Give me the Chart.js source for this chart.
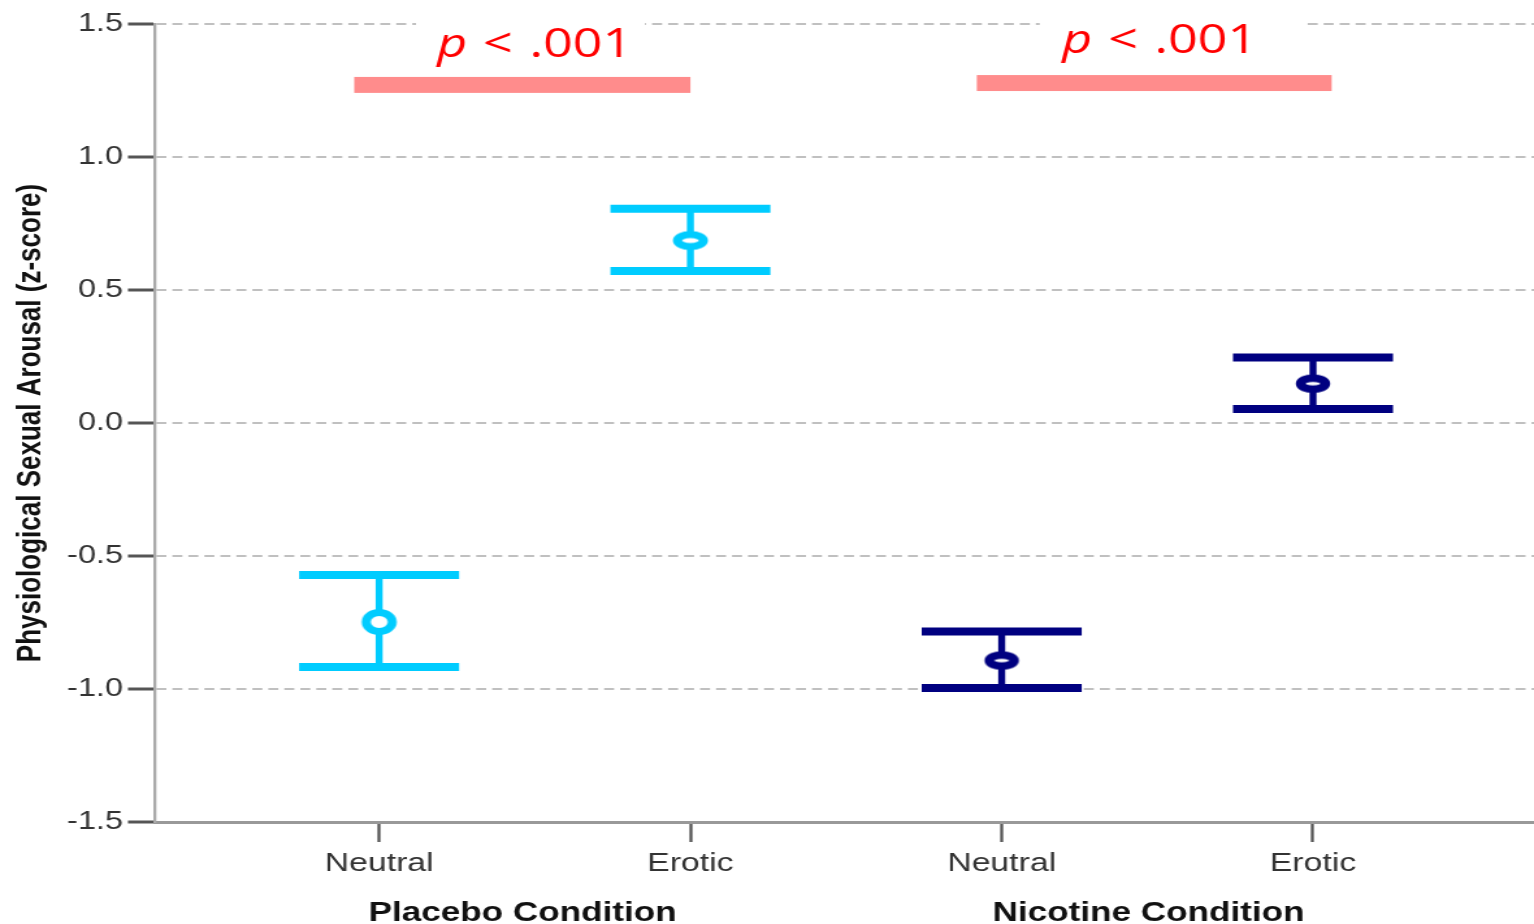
<!DOCTYPE html>
<html><head><meta charset="utf-8">
<script src="https://cdn.jsdelivr.net/npm/chart.js@4.4.0/dist/chart.umd.min.js"></script>
<style>html,body{margin:0;padding:0;background:#fff;overflow:hidden}</style>
</head><body>
<canvas id="c" width="1180" height="924" style="width:1534px;height:924px;display:block"></canvas>
<script>
// ---- data ----
const categories = ['Neutral', 'Erotic', 'Neutral', 'Erotic'];
const groupLabels = ['Placebo Condition', 'Nicotine Condition'];
const meanValues  = [-0.748, 0.686, -0.893, 0.148];
const upperValues = [-0.571, 0.805, -0.784, 0.246];
const lowerValues = [-0.917, 0.571, -0.996, 0.053];
const yTickValues = [-1.5, -1.0, -0.5, 0.0, 0.5, 1.0, 1.5];
const sigLabels = ['p < .001', 'p < .001'];
// significance bars (x in category units, y in z-score units)
const sigBarStart  = [-0.08, 1.92];
const sigBarEnd    = [1.0, 3.06];
const sigBarTop    = [1.301, 1.308];
const sigBarBottom = [1.241, 1.248];

// ---- layout / style ----
const S = 1.3; // canvas is stretched horizontally by CSS
const seriesColors = ['#00ccff', '#00ccff', '#000080', '#000080'];
const markerShape = [[10, 9.5, 7], [10, 6, 7], [9.5, 5.5, 7.5], [9.5, 5.5, 7.5]];
const capHalf = 0.257;
const sigTextX = [0.186, 2.194], sigTextY = [1.375, 1.39];
const sigPieceOffset = [0, 35.4, 71]; // canvas px offsets of "p", "<", ".001"
const gapX0 = [0.1185, 2.122], gapX1 = [0.854, 2.968];
const groupX = [0.461, 2.472];

function makeMarker(color, rx, ry, lw) {
  const c = document.createElement('canvas');
  c.width = 2 * Math.ceil(rx + lw / 2 + 2);
  c.height = 2 * Math.ceil(ry + lw / 2 + 2);
  const g = c.getContext('2d');
  g.fillStyle = '#fff'; g.strokeStyle = color; g.lineWidth = lw;
  g.beginPath(); g.ellipse(c.width / 2, c.height / 2, rx, ry, 0, 0, Math.PI * 2);
  g.fill(); g.stroke();
  return c;
}
const markers = categories.map((_, i) => makeMarker(seriesColors[i], ...markerShape[i]));

const annot = {
  id: 'annot',
  beforeDatasetsDraw(chart) {
    const {ctx, scales: {x, y}} = chart;
    ctx.save();
    ctx.lineCap = 'butt';
    for (let i = 0; i < categories.length; i++) {
      const px = x.getPixelForValue(i);
      const yu = y.getPixelForValue(upperValues[i]);
      const yl = y.getPixelForValue(lowerValues[i]);
      ctx.strokeStyle = seriesColors[i];
      ctx.lineWidth = 5.4;
      ctx.beginPath(); ctx.moveTo(px, yu); ctx.lineTo(px, yl); ctx.stroke();
      const xa = x.getPixelForValue(i - capHalf), xb = x.getPixelForValue(i + capHalf);
      ctx.lineWidth = 8;
      ctx.beginPath();
      ctx.moveTo(xa, yu); ctx.lineTo(xb, yu);
      ctx.moveTo(xa, yl); ctx.lineTo(xb, yl);
      ctx.stroke();
    }
    ctx.restore();
  },
  afterDraw(chart) {
    const {ctx, scales: {x, y}, chartArea} = chart;
    ctx.save();
    const yTop = y.getPixelForValue(1.5);
    ctx.fillStyle = '#fff';
    for (let i = 0; i < 2; i++) {
      const a = x.getPixelForValue(gapX0[i]), b = x.getPixelForValue(gapX1[i]);
      ctx.fillRect(a, yTop - 4, b - a, 8);
    }
    ctx.fillStyle = '#ff8c8c';
    for (let i = 0; i < 2; i++) {
      const a = x.getPixelForValue(sigBarStart[i]), b = x.getPixelForValue(sigBarEnd[i]);
      const t = y.getPixelForValue(sigBarTop[i]), bt = y.getPixelForValue(sigBarBottom[i]);
      ctx.fillRect(a, t, b - a, bt - t);
    }
    ctx.fillStyle = '#ff0000';
    ctx.textBaseline = 'alphabetic';
    ctx.textAlign = 'left';
    for (let i = 0; i < 2; i++) {
      const pieces = sigLabels[i].split(' ');
      const sx = x.getPixelForValue(sigTextX[i]);
      const by = y.getPixelForValue(sigTextY[i]);
      pieces.forEach((p, k) => {
        ctx.font = (k === 0 ? 'italic ' : '') + "40px 'Open Sans'";
        ctx.fillText(p, sx + sigPieceOffset[k], by);
      });
    }
    ctx.fillStyle = '#111';
    ctx.textAlign = 'center';
    ctx.font = "bold 27px 'Liberation Sans'";
    for (let i = 0; i < 2; i++) {
      ctx.fillText(groupLabels[i], x.getPixelForValue(groupX[i]), chartArea.bottom + 99);
    }
    ctx.restore();
  }
};

new Chart(document.getElementById('c'), {
  type: 'scatter',
  data: {
    datasets: [{
      label: 'Mean',
      data: meanValues.map((v, i) => ({x: i, y: v})),
      pointStyle: markers,
      pointRadius: 1,
      pointHoverRadius: 1,
      pointBorderWidth: 0,
      borderWidth: 0
    }]
  },
  options: {
    responsive: false,
    devicePixelRatio: 1,
    animation: false,
    events: [],
    layout: {autoPadding: false, padding: {top: 24, left: 0, right: 0, bottom: 0}},
    plugins: {legend: {display: false}, tooltip: {enabled: false}},
    scales: {
      x: {
        type: 'linear',
        min: -0.72, max: 3.71,
        afterBuildTicks: s => { s.ticks = categories.map((_, i) => ({value: i})); },
        afterFit: s => { s.height = 102; },
        ticks: {
          callback: v => categories[v] ?? '',
          autoSkip: false, maxRotation: 0,
          font: {family: 'Liberation Sans', size: 26},
          color: '#333',
          padding: 6
        },
        grid: {drawOnChartArea: false, drawTicks: true, tickLength: 20, tickWidth: 2.3, tickColor: '#555'},
        border: {color: '#999', width: 3}
      },
      y: {
        type: 'linear',
        min: -1.5, max: 1.5,
        afterBuildTicks: s => { s.ticks = yTickValues.map(v => ({value: v})); },
        afterFit: s => { s.width = 155 / S; },
        ticks: {
          callback: v => Number(v).toFixed(1),
          font: {family: 'Liberation Sans', size: 25},
          color: '#333',
          padding: 3.8
        },
        grid: {color: '#c0c0c0', lineWidth: 2, tickLength: 20.8, tickColor: '#555', tickWidth: 3, tickBorderDash: []},
        border: {color: '#aaa', width: 2.3, dash: [7.7, 4.6]},
        title: {
          display: true,
          text: 'Physiological Sexual Arousal (z-score)',
          font: {family: 'Liberation Sans', size: 26, weight: 'bold'},
          color: '#111',
          padding: {top: 8.2, bottom: 0}
        }
      }
    }
  },
  plugins: [annot]
});
</script>
</body></html>
